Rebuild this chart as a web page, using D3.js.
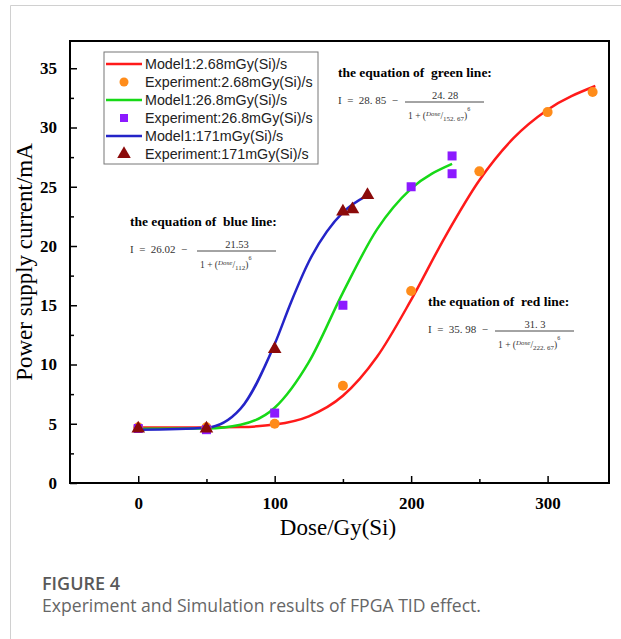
<!DOCTYPE html>
<html>
<head>
<meta charset="utf-8">
<script src="https://cdn.jsdelivr.net/npm/d3@7"></script>
<style>
  html, body { margin: 0; padding: 0; background: #fff; }
  svg { display: block; }
</style>
</head>
<body>
<div id="chart"></div>
<script>
const width = 621;
const height = 639;

// experiment points [dose, current]
const expSlow = [[0, 4.7], [50, 4.7], [100, 5.0], [150, 8.2], [200, 16.2], [250, 26.3], [300, 31.3], [333, 33.0]];
const expMid = [[0, 4.6], [50, 4.5], [100, 5.9], [150, 15.0], [200, 25.0], [230, 27.6], [230, 26.1]];
const expFast = [[0, 4.6], [50, 4.6], [100, 11.3], [150, 22.9], [157, 23.1], [168, 24.3]];

// model curves
const modelSlow = [[0, 4.68], [50, 4.68], [75, 4.72], [100, 4.93], [125, 5.63], [150, 7.36], [175, 10.65], [200, 15.45], [225, 20.8], [250, 25.55], [275, 29.1], [300, 31.5], [335, 33.5]];
const modelMid = [[0, 4.57], [50, 4.6], [75, 4.91], [100, 6.35], [125, 10.2], [150, 16.07], [175, 21.4], [200, 24.84], [230, 26.93]];
const modelFast = [[0, 4.49], [50, 4.66], [75, 6.27], [100, 11.73], [112, 15.26], [125, 18.67], [150, 22.84], [168, 24.28]];

const legendLabels = [
  "Model1:2.68mGy(Si)/s",
  "Experiment:2.68mGy(Si)/s",
  "Model1:26.8mGy(Si)/s",
  "Experiment:26.8mGy(Si)/s",
  "Model1:171mGy(Si)/s",
  "Experiment:171mGy(Si)/s"
];
const xTicks = [0, 100, 200, 300];
const yTicks = [0, 5, 10, 15, 20, 25, 30, 35];

const red = "#ff1a1a", green = "#17d917", blue = "#2424c8";
const orange = "#ff8c1a", purple = "#8c1aff", darkred = "#8b0a0a";

const margin = { left: 70, top: 41, right: 12, bottom: 156 };
const plotW = width - margin.left - margin.right;
const plotH = height - margin.top - margin.bottom;

const x = d3.scaleLinear().domain([-50, 345]).range([0, plotW]);
const y = d3.scaleLinear().domain([0, 37.3]).range([plotH, 0]);

const svg = d3.select("#chart").append("svg")
  .attr("width", width)
  .attr("height", height);

// page border like the article frame
svg.append("path")
  .attr("d", `M10.5,${height}V5.5H${width}`)
  .attr("fill", "none")
  .attr("stroke", "#d0d0d0")
  .attr("stroke-width", 1);

const g = svg.append("g").attr("transform", `translate(${margin.left},${margin.top})`);

// axes, ticks inside
const xAxis = d3.axisBottom(x).tickValues(xTicks).tickSizeInner(-7).tickSizeOuter(0).tickPadding(14);
const yAxis = d3.axisLeft(y).tickValues(yTicks).tickSizeInner(-7).tickSizeOuter(0).tickPadding(13);

const gx = g.append("g").attr("transform", `translate(0,${plotH})`).call(xAxis);
const gy = g.append("g").call(yAxis);

// minor ticks
g.append("g").attr("transform", `translate(0,${plotH})`)
  .call(d3.axisBottom(x).tickValues([50, 150, 250]).tickSize(-4).tickFormat(""));
g.append("g")
  .call(d3.axisLeft(y).tickValues([2.5, 7.5, 12.5, 17.5, 22.5, 27.5, 32.5]).tickSize(-4).tickFormat(""));

g.selectAll(".domain").remove();
g.selectAll(".tick line").attr("stroke", "#000").attr("stroke-width", 1.5);
[gx, gy].forEach((a) => a.selectAll("text")
  .attr("font-family", "'Liberation Serif', 'Times New Roman', serif")
  .attr("font-weight", "bold")
  .attr("font-size", 17)
  .attr("fill", "#000"));

g.append("rect")
  .attr("width", plotW)
  .attr("height", plotH)
  .attr("fill", "none")
  .attr("stroke", "#000")
  .attr("stroke-width", 2);

// model curves
const line = d3.line()
  .x((d) => x(d[0]))
  .y((d) => y(d[1]))
  .curve(d3.curveMonotoneX);

[[modelSlow, red], [modelMid, green], [modelFast, blue]].forEach(([data, color]) => {
  g.append("path")
    .attr("d", line(data))
    .attr("fill", "none")
    .attr("stroke", color)
    .attr("stroke-width", 2.5);
});

// experiment markers
g.selectAll(".slow").data(expSlow).enter().append("circle")
  .attr("cx", (d) => x(d[0]))
  .attr("cy", (d) => y(d[1]))
  .attr("r", 5)
  .attr("fill", orange);

g.selectAll(".mid").data(expMid).enter().append("rect")
  .attr("x", (d) => x(d[0]) - 4.5)
  .attr("y", (d) => y(d[1]) - 4.5)
  .attr("width", 9)
  .attr("height", 9)
  .attr("fill", purple);

const tri = d3.symbol().type(d3.symbolTriangle).size(80);
g.selectAll(".fast").data(expFast).enter().append("path")
  .attr("d", tri)
  .attr("transform", (d) => `translate(${x(d[0])},${y(d[1])})`)
  .attr("fill", darkred);

// legend
const legend = svg.append("g").attr("transform", "translate(104,52)");
legend.append("rect")
  .attr("width", 214)
  .attr("height", 112)
  .attr("fill", "#fff")
  .attr("stroke", "#777")
  .attr("stroke-width", 1);

const legendKeys = [
  { kind: "line", color: red },
  { kind: "circle", color: orange },
  { kind: "line", color: green },
  { kind: "square", color: purple },
  { kind: "line", color: blue },
  { kind: "triangle", color: darkred }
];

legendLabels.forEach((label, i) => {
  const row = legend.append("g").attr("transform", `translate(0,${12 + i * 18})`);
  const k = legendKeys[i];
  if (k.kind === "line") {
    row.append("line").attr("x1", 2).attr("x2", 38).attr("stroke", k.color).attr("stroke-width", 2.5);
  } else if (k.kind === "circle") {
    row.append("circle").attr("cx", 20).attr("r", 4.5).attr("fill", k.color);
  } else if (k.kind === "square") {
    row.append("rect").attr("x", 16).attr("y", -4).attr("width", 8).attr("height", 8).attr("fill", k.color);
  } else {
    row.append("path").attr("d", tri).attr("transform", "translate(20,0)").attr("fill", k.color);
  }
  row.append("text")
    .attr("x", 41)
    .attr("dy", "0.35em")
    .attr("font-family", "'Liberation Sans', Arial, sans-serif")
    .attr("font-size", 14.3)
    .attr("fill", "#222")
    .text(label);
});

// equations
const serif = "'Liberation Serif', 'Times New Roman', serif";
function equation(px, py, color, lead, num, den) {
  const e = svg.append("g").attr("transform", `translate(${px},${py})`);
  e.append("text")
    .attr("font-family", serif)
    .attr("font-weight", "bold")
    .attr("font-size", 13.5)
    .text(`the equation of\u00a0\u00a0${color} line:`);
  e.append("text")
    .attr("y", 27)
    .attr("font-family", serif)
    .attr("font-size", 11)
    .attr("fill", "#333")
    .text(lead);
  const fx = 67;
  e.append("line")
    .attr("x1", fx).attr("x2", fx + 79)
    .attr("y1", 25).attr("y2", 25)
    .attr("stroke", "#333").attr("stroke-width", 0.9);
  e.append("text")
    .attr("x", fx + 40).attr("y", 22)
    .attr("text-anchor", "middle")
    .attr("font-family", serif)
    .attr("font-size", 10.5)
    .attr("fill", "#333")
    .text(num);
  const d = e.append("text")
    .attr("x", fx + 3).attr("y", 42)
    .attr("font-family", serif)
    .attr("font-size", 9.5)
    .attr("fill", "#333");
  d.append("tspan").text("1 + (");
  d.append("tspan").attr("font-style", "italic").attr("font-size", 7).attr("dy", -3).text("Dose");
  d.append("tspan").attr("dy", 3).text("/");
  d.append("tspan").attr("font-size", 7).attr("dy", 2).text(den);
  d.append("tspan").attr("dy", -2).text(")");
  d.append("tspan").attr("font-size", 6).attr("dy", -8).text("6");
}

equation(338, 77, "green", "I\u00a0 =\u00a0 28. 85\u00a0 \u2212", "24. 28", "152. 67");
equation(130, 226, "blue", "I\u00a0 =\u00a0 26.02\u00a0 \u2212", "21.53", "112");
equation(428, 306, "red", "I\u00a0 =\u00a0 35. 98\u00a0 \u2212", "31. 3", "222. 67");

// axis titles
svg.append("text")
  .attr("transform", `translate(32,${margin.top + plotH / 2}) rotate(-90)`)
  .attr("text-anchor", "middle")
  .attr("font-family", serif)
  .attr("font-size", 23)
  .attr("fill", "#000")
  .text("Power supply current/mA");

svg.append("text")
  .attr("x", 338)
  .attr("y", 535)
  .attr("text-anchor", "middle")
  .attr("font-family", serif)
  .attr("font-size", 23)
  .attr("fill", "#000")
  .text("Dose/Gy(Si)");

// caption
svg.append("text")
  .attr("x", 42)
  .attr("y", 590)
  .attr("font-family", "'Open Sans', 'Noto Sans', sans-serif")
  .attr("font-weight", 600)
  .attr("font-size", 18)
  .attr("fill", "#595959")
  .text("FIGURE 4");

svg.append("text")
  .attr("x", 42)
  .attr("y", 612)
  .attr("font-family", "'Open Sans', 'Noto Sans', sans-serif")
  .attr("font-size", 17.6)
  .attr("fill", "#666")
  .text("Experiment and Simulation results of FPGA TID effect.");
</script>
</body>
</html>
